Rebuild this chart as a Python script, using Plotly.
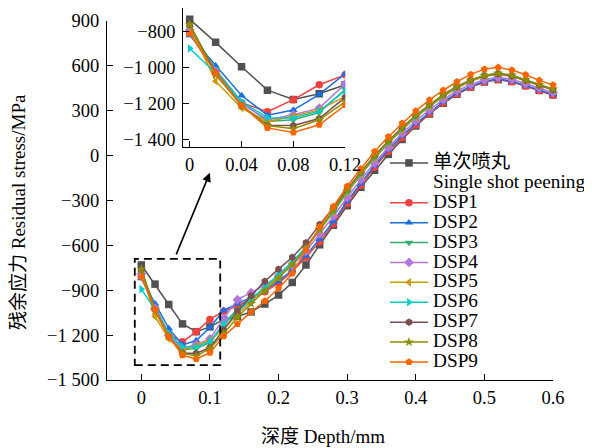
import plotly.graph_objects as go

# ---------------- data ----------------
depth = [round(0.02 * i, 2) for i in range(31)]

series_names = ["单次喷丸", "DSP1", "DSP2", "DSP3", "DSP4", "DSP5", "DSP6", "DSP7", "DSP8", "DSP9"]
extra_legend_label = "Single shot peening"

single = [-731, -859, -995, -1125, -1177, -1145, -1095, -1075, -1045, -992, -932, -848, -731, -596, -465, -335,
          -212, -98, 8, 108, 198, 278, 350, 410, 458, 492, 508, 496, 468, 436, 406]
dsp1 = [-810, -1020, -1195, -1245, -1178, -1095, -1040, -1005, -960, -910, -852, -775, -680, -575, -455, -320,
        -198, -78, 28, 120, 205, 282, 352, 412, 458, 492, 508, 494, 465, 436, 404]
dsp2 = [-820, -990, -1155, -1265, -1236, -1149, -1034, -990, -948, -898, -840, -765, -668, -558, -440, -305,
        -185, -65, 40, 132, 215, 290, 360, 418, 463, 497, 512, 498, 470, 440, 410]
dsp3 = [-780, -1010, -1190, -1300, -1290, -1250, -1120, -1030, -960, -880, -800, -720, -615, -495, -375, -245,
        -125, -15, 85, 175, 258, 330, 398, 455, 500, 532, 548, 535, 505, 472, 442]
dsp4 = [-790, -1020, -1200, -1290, -1262, -1225, -1090, -963, -916, -865, -805, -735, -640, -525, -405, -280,
        -160, -50, 55, 148, 232, 306, 375, 432, 476, 507, 523, 510, 482, 452, 422]
dsp5 = [-770, -1075, -1225, -1300, -1270, -1235, -1160, -1060, -975, -890, -805, -720, -618, -497, -378, -248,
        -128, -18, 82, 172, 255, 328, 395, 452, 497, 528, 543, 530, 500, 468, 438]
dsp6 = [-893, -1030, -1190, -1278, -1280, -1242, -1128, -1045, -965, -880, -795, -712, -610, -490, -370, -240,
        -120, -10, 90, 180, 262, 335, 402, 458, 503, 535, 550, 537, 507, 475, 445]
dsp7 = [-760, -1030, -1210, -1320, -1322, -1283, -1165, -1040, -937, -840, -759, -680, -582, -460, -350, -225,
        -110, 0, 98, 188, 270, 342, 408, 462, 505, 535, 547, 533, 503, 470, 440]
dsp8 = [-760, -1040, -1210, -1322, -1340, -1290, -1190, -1080, -990, -905, -820, -730, -620, -490, -365, -235,
        -115, -5, 95, 185, 268, 340, 406, 460, 504, 535, 550, 537, 507, 474, 444]
dsp9 = [-810, -1030, -1210, -1335, -1360, -1318, -1208, -1125, -1045, -972, -888, -788, -630, -475, -340, -205,
        -88, 28, 126, 216, 299, 372, 437, 494, 543, 578, 590, 572, 541, 503, 472]

all_series = [single, dsp1, dsp2, dsp3, dsp4, dsp5, dsp6, dsp7, dsp8, dsp9]

main_x_ticks = [0, 0.1, 0.2, 0.3, 0.4, 0.5, 0.6]
main_x_labels = ["0", "0.1", "0.2", "0.3", "0.4", "0.5", "0.6"]
main_y_ticks = [900, 600, 300, 0, -300, -600, -900, -1200, -1500]
main_y_labels = ["900", "600", "300", "0", "\u2212300", "\u2212600", "\u2212900", "\u22121 200", "\u22121 500"]
inset_x_ticks = [0, 0.04, 0.08, 0.12]
inset_x_labels = ["0", "0.04", "0.08", "0.12"]
inset_y_ticks = [-800, -1000, -1200, -1400]
inset_y_labels = ["\u2212800", "\u22121 000", "\u22121 200", "\u22121 400"]

x_title = "深度 Depth/mm"
y_title = "残余应力 Residual stress/MPa"

# ---------------- styles ----------------
colors = ["#515151", "#F14040", "#1A6FDF", "#37AD6B", "#B177DE", "#CC9900", "#00CBCC", "#7D4E4E", "#8E8E00", "#FB6501"]
symbols = ["square", "circle", "triangle-up", "triangle-down", "diamond", "triangle-left", "triangle-right",
           "hexagon", "star", "pentagon"]
FONT = "Liberation Serif, Times New Roman, Noto Sans CJK SC, serif"

fig = go.Figure()

def leg(txt):
    return '<span style="font-size:19.3px">' + txt + '</span>'

for i, (name, vals) in enumerate(zip(series_names, all_series)):
    fig.add_trace(go.Scatter(
        x=depth, y=vals, name=leg(name), mode="lines+markers",
        line=dict(color=colors[i], width=1.5),
        marker=dict(symbol=symbols[i], size=7.5, color=colors[i], line=dict(width=0)),
        xaxis="x", yaxis="y", cliponaxis=False, showlegend=True))
    if i == 0:
        fig.add_trace(go.Scatter(
            x=[None], y=[None], name=leg(extra_legend_label), mode="lines",
            line=dict(color="rgba(0,0,0,0)", width=1), xaxis="x", yaxis="y", showlegend=True,
            hoverinfo="skip"))

for i, (name, vals) in enumerate(zip(series_names, all_series)):
    fig.add_trace(go.Scatter(
        x=depth, y=vals, name=name, mode="lines+markers",
        line=dict(color=colors[i], width=1.5),
        marker=dict(symbol=symbols[i], size=7.5, color=colors[i], line=dict(width=0)),
        xaxis="x2", yaxis="y2", cliponaxis=True, showlegend=False))

axis_common = dict(showline=True, linecolor="black", linewidth=1.3, ticks="inside", ticklen=6,
                   tickwidth=1.3, tickcolor="black", showgrid=False, zeroline=False, mirror=False,
                   tickfont=dict(family=FONT, size=18.5, color="black"), tickmode="array", automargin=False)

# the page body adds an 8 px offset, so the figure is drawn 8 px smaller
fig.update_layout(
    width=584, height=440,
    margin=dict(l=99, r=39, t=0, b=68, autoexpand=False),
    paper_bgcolor="white", plot_bgcolor="white",
    font=dict(family=FONT, color="black"),
    xaxis=dict(domain=[0, 1], range=[-0.05, 0.6], anchor="y", tickvals=main_x_ticks, ticktext=main_x_labels,
               ticklabelstandoff=1, **axis_common),
    yaxis=dict(domain=[0, 0.9651], range=[-1500, 900], anchor="x", tickvals=main_y_ticks, ticktext=main_y_labels,
               ticklabelstandoff=3, **axis_common),
    xaxis2=dict(domain=[0.171, 0.534], range=[-0.005, 0.12], anchor="y2", tickvals=inset_x_ticks,
                ticktext=inset_x_labels, ticklabelstandoff=1, **axis_common),
    yaxis2=dict(domain=[0.627, 1.0], range=[-1440, -668], anchor="x2", tickvals=inset_y_ticks,
                ticktext=inset_y_labels, ticklabelstandoff=3, **axis_common),
    showlegend=True,
    legend=dict(x=0.6233, y=0.6237, xanchor="left", yanchor="top", bgcolor="rgba(0,0,0,0)",
                font=dict(family=FONT, size=13, color="black"), itemwidth=38, borderwidth=0,
                tracegroupgap=0),
    shapes=[dict(type="rect", xref="x", yref="y", x0=-0.0095, x1=0.115, y0=-1400, y1=-690,
                 line=dict(color="black", width=1.8, dash="8px,5px"), fillcolor="rgba(0,0,0,0)")],
    annotations=[
        dict(x=0.1, y=-115, ax=0.05, ay=-670, xref="x", yref="y", axref="x", ayref="y", text="",
             showarrow=True, arrowhead=2, arrowsize=1.1, arrowwidth=1.6, arrowcolor="black"),
        dict(text=x_title, xref="paper", yref="paper", x=0.484, y=-0.153, xanchor="center", yanchor="middle",
             showarrow=False, font=dict(family=FONT, size=19, color="black")),
        dict(text=y_title, xref="paper", yref="paper", x=-0.1996, y=0.4516, xanchor="center", yanchor="middle",
             textangle=-90, showarrow=False, font=dict(family=FONT, size=19, color="black")),
    ],
)

fig.write_html("out.html")
